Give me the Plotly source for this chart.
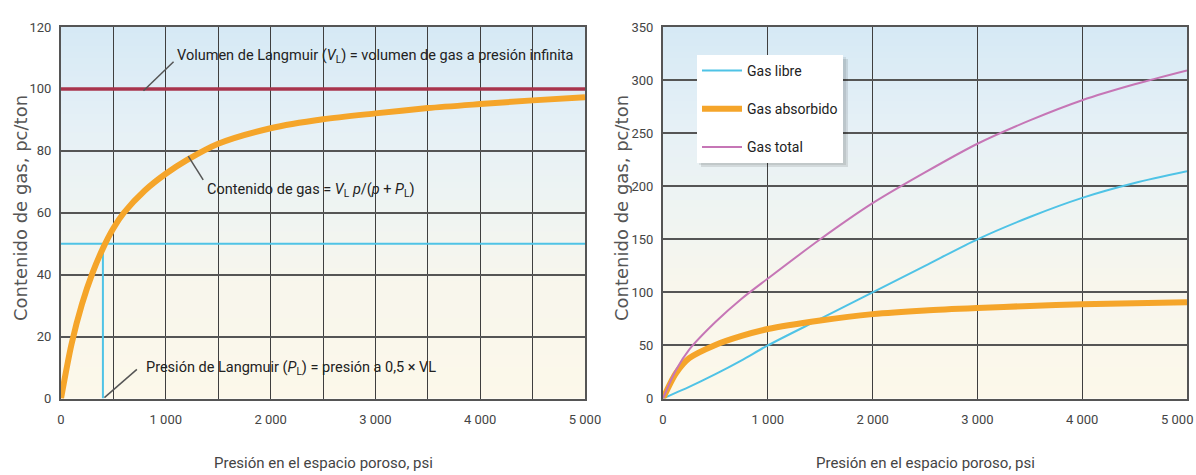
import plotly.graph_objects as go

# ---------------- data ----------------
# Left chart: Langmuir isotherm
p_left = [0, 100, 200, 300, 400, 500, 600, 800, 1000, 1200, 1500, 2000, 2500, 3000, 3500, 4000, 4500, 5000]
gas_content = [0, 17.5, 30.5, 40.5, 48.5, 55, 60, 67.2, 72.6, 77, 82.3, 87.3, 90.2, 92.1, 93.8, 95.1, 96.3, 97.3]
VL = 100          # Langmuir volume
PL = 400          # Langmuir pressure
half_VL = 50
x_range_left = [0, 5000]

# Right chart
p_right = [0, 125, 250, 500, 750, 1000, 1500, 2000, 2500, 3000, 3500, 4000, 4500, 5000]
gas_libre = [0, 5.5, 11, 23, 36, 50, 75, 100, 125, 150, 171, 189, 203, 214]
gas_absorbido = [0, 24, 38, 50.5, 59, 65.5, 73.5, 79.5, 83, 85.3, 87.2, 88.7, 89.8, 90.7]
gas_total = [0, 27, 46, 72, 94, 113, 150, 184, 213, 240, 262, 281, 296, 309]

x_tickvals = [0, 1000, 2000, 3000, 4000, 5000]
x_ticktext = ["0", "1 000", "2 000", "3 000", "4 000", "5 000"]
y_left_ticks = [0, 20, 40, 60, 80, 100, 120]
y_right_ticks = [0, 50, 100, 150, 200, 250, 300, 350]

# ---------------- styling ----------------
W, H = 1196, 475
COND = "Roboto, Liberation Sans, sans-serif"
WIDE = "DejaVu Sans, sans-serif"
ORANGE = "#f5a52a"
CYAN = "#4fc3e6"
RED = "#a8344c"
MAGENTA = "#c676b6"

def px_x(x):
    return x / W

def px_y(y):
    return 1 - y / H

L_dom = [px_x(61), px_x(585)]
R_dom = [px_x(663), px_x(1187)]
Y_dom = [px_y(398.5), px_y(27)]

fig = go.Figure()

# Left traces
fig.add_trace(go.Scatter(x=x_range_left, y=[VL, VL], mode="lines",
                         line=dict(color=RED, width=3.5), showlegend=False,
                         xaxis="x", yaxis="y", hoverinfo="skip"))
fig.add_trace(go.Scatter(x=x_range_left, y=[half_VL, half_VL], mode="lines",
                         line=dict(color=CYAN, width=2), showlegend=False,
                         xaxis="x", yaxis="y", hoverinfo="skip"))
fig.add_trace(go.Scatter(x=[PL, PL], y=[0, half_VL], mode="lines",
                         line=dict(color=CYAN, width=2), showlegend=False,
                         xaxis="x", yaxis="y", hoverinfo="skip"))
fig.add_trace(go.Scatter(x=p_left, y=gas_content, mode="lines",
                         line=dict(color=ORANGE, width=6, shape="spline", smoothing=0.8),
                         showlegend=False, xaxis="x", yaxis="y"))

# Right traces
fig.add_trace(go.Scatter(x=p_right, y=gas_libre, mode="lines", name="Gas libre",
                         line=dict(color=CYAN, width=2, shape="spline", smoothing=0.8),
                         legendgroup="a", xaxis="x2", yaxis="y2"))
fig.add_trace(go.Scatter(x=p_right, y=gas_absorbido, mode="lines", name="Gas absorbido",
                         line=dict(color=ORANGE, width=6, shape="spline", smoothing=0.8),
                         legendgroup="b", xaxis="x2", yaxis="y2"))
fig.add_trace(go.Scatter(x=p_right, y=gas_total, mode="lines", name="Gas total",
                         line=dict(color=MAGENTA, width=2, shape="spline", smoothing=0.8),
                         legendgroup="c", xaxis="x2", yaxis="y2"))

# ---------------- background gradient ----------------
stops = [(0.0, (252, 248, 234)), (0.3, (248, 246, 236)), (0.5, (239, 244, 242)),
         (0.75, (229, 240, 246)), (1.0, (213, 233, 245))]

def grad(f):
    for (f0, c0), (f1, c1) in zip(stops[:-1], stops[1:]):
        if f0 <= f <= f1:
            t = (f - f0) / (f1 - f0)
            return "rgb(%d,%d,%d)" % tuple(round(a + (b - a) * t) for a, b in zip(c0, c1))
    return "rgb(%d,%d,%d)" % stops[-1][1]

shapes = []
N = 60
for ax in ["", "2"]:
    for i in range(N):
        f0, f1 = i / N, (i + 1) / N
        shapes.append(dict(type="rect", xref="x%s domain" % ax, yref="y%s domain" % ax,
                           x0=0, x1=1, y0=f0, y1=f1 + 0.002, layer="below",
                           line=dict(width=0), fillcolor=grad((f0 + f1) / 2)))

# leader lines (left chart)
leaders = [((787, 99.4), (1074, 108.8)),
           ((1214, 78.3), (1357, 70.6)),
           ((414, 0.3), (724, 9.4))]
for (x0, y0), (x1, y1) in leaders:
    shapes.append(dict(type="line", xref="x", yref="y", x0=x0, y0=y0, x1=x1, y1=y1,
                       line=dict(color="#555555", width=1.5)))

# legend shadow
shapes.append(dict(type="rect", xref="paper", yref="paper",
                   x0=px_x(701), x1=px_x(848), y0=px_y(167), y1=px_y(59),
                   fillcolor="rgba(0,0,0,0.10)", line=dict(width=0), layer="above"))
shapes.append(dict(type="rect", xref="paper", yref="paper",
                   x0=px_x(699), x1=px_x(846), y0=px_y(165), y1=px_y(57),
                   fillcolor="rgba(0,0,0,0.08)", line=dict(width=0), layer="above"))

tickfont = dict(family=COND, size=13, color="#444")
annot_font = dict(family=COND, size=14.5, color="#222")
annotations = [
    dict(x=1090, y=110.5, xref="x", yref="y", xanchor="left", yanchor="middle", showarrow=False,
         text="Volumen de Langmuir (<i>V</i><sub>L</sub>) = volumen de gas a presión infinita",
         font=annot_font),
    dict(x=1377, y=67.3, xref="x", yref="y", xanchor="left", yanchor="middle", showarrow=False,
         text="Contenido de gas = <i>V</i><sub>L</sub> <i>p</i>/(<i>p</i> + <i>P</i><sub>L</sub>)",
         font=annot_font),
    dict(x=790, y=9.7, xref="x", yref="y", xanchor="left", yanchor="middle", showarrow=False,
         text="Presión de Langmuir (<i>P</i><sub>L</sub>) = presión a 0,5 × VL",
         font=annot_font),
    # last tick label of the right axis, kept inside the page
    dict(x=x_tickvals[-1], y=px_y(419), xref="x2", yref="paper", xanchor="right", yanchor="middle",
         xshift=8, showarrow=False, text=x_ticktext[-1], font=tickfont),
    # axis titles
    dict(x=px_x(20), y=px_y(208), xref="paper", yref="paper", showarrow=False, textangle=-90,
         xanchor="center", yanchor="middle",
         text="Contenido de gas, pc/ton", font=dict(family=WIDE, size=18, color="#555")),
    dict(x=px_x(621), y=px_y(208), xref="paper", yref="paper", showarrow=False, textangle=-90,
         xanchor="center", yanchor="middle",
         text="Contenido de gas, pc/ton", font=dict(family=WIDE, size=18, color="#555")),
    dict(x=px_x(323), y=px_y(463), xref="paper", yref="paper", showarrow=False,
         xanchor="center", yanchor="middle",
         text="Presión en el espacio poroso, psi", font=dict(family=COND, size=15, color="#444")),
    dict(x=px_x(925), y=px_y(463), xref="paper", yref="paper", showarrow=False,
         xanchor="center", yanchor="middle",
         text="Presión en el espacio poroso, psi", font=dict(family=COND, size=15, color="#444")),
]

VGRID = "#3f3f3f"
HGRID = "#555555"
common_x = dict(range=[0, 5000], tickmode="array",
                showgrid=True, gridcolor=VGRID, gridwidth=1.4, zeroline=False,
                showline=True, linecolor="#555", linewidth=2, mirror=True,
                ticks="outside", ticklen=8, tickcolor="rgba(0,0,0,0)",
                ticklabeloverflow="allow",
                tickfont=tickfont, automargin=False, fixedrange=True)
common_y = dict(showgrid=True, gridcolor=HGRID, gridwidth=2.4, zeroline=False,
                showline=True, linecolor="#555", linewidth=2, mirror=True,
                ticks="outside", ticklen=5, tickcolor="rgba(0,0,0,0)",
                ticklabeloverflow="allow",
                tickfont=tickfont, automargin=False, fixedrange=True)

fig.update_layout(
    width=W, height=H,
    margin=dict(l=0, r=0, t=0, b=0),
    paper_bgcolor="white", plot_bgcolor="white",
    xaxis=dict(domain=L_dom, anchor="y", tickvals=x_tickvals, ticktext=x_ticktext,
               minor=dict(tickmode="linear", tick0=0, dtick=500, showgrid=True,
                          gridcolor=VGRID, gridwidth=1.4), **common_x),
    yaxis=dict(domain=Y_dom, anchor="x", range=[0, 120], tickmode="array",
               tickvals=y_left_ticks, **common_y),
    xaxis2=dict(domain=R_dom, anchor="y2", tickvals=x_tickvals[:-1], ticktext=x_ticktext[:-1],
                minor=dict(tickmode="array", tickvals=[x_tickvals[-1]], showgrid=True,
                           gridcolor=VGRID, gridwidth=1.4),
                **common_x),
    yaxis2=dict(domain=Y_dom, anchor="x2", range=[0, 350], tickmode="array",
                tickvals=y_right_ticks, **common_y),
    shapes=shapes,
    annotations=annotations,
    showlegend=True,
    legend=dict(x=px_x(697), y=px_y(55), xanchor="left", yanchor="top",
                bgcolor="white", borderwidth=0, traceorder="grouped", tracegroupgap=17,
                font=dict(family=COND, size=14, color="#222"), itemwidth=40),
)

fig.write_html("out.html", config={"displayModeBar": False},
               post_script="document.body.style.margin='0px';")
